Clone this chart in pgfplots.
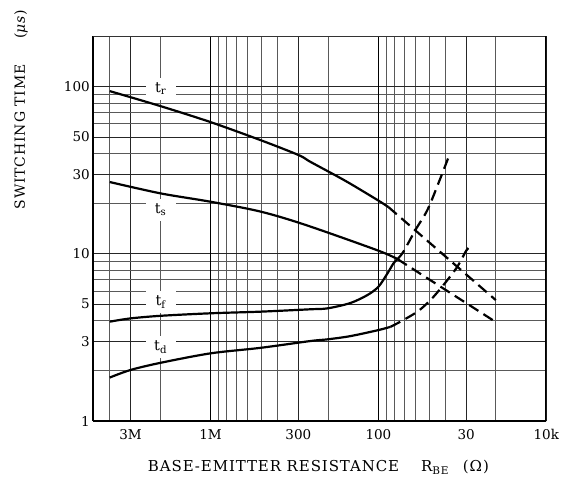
\documentclass[border=0pt]{standalone}
\usepackage{fontspec}
\setmainfont{DejaVu Serif}
\usepackage{pgfplots}
\pgfplotsset{compat=1.18}
\begin{document}
\begin{tikzpicture}
\useasboundingbox (-93.3pt,-66pt) rectangle (470.7pt,421pt);
\begin{axis}[
  at={(0pt,0pt)}, anchor=south west,
  scale only axis, width=453pt, height=384.6pt,
  xmode=log, ymode=log, x dir=reverse,
  xmin=10, xmax=5000, ymin=1, ymax=200,
  axis x line*=bottom, axis y line*=left,
  axis line style={-, line width=1.6pt},
  xtick={3000,1000,300,100,30,10}, xticklabels={3M,1M,300,100,30,10k},
  ytick={1,3,5,10,30,50,100}, yticklabels={1,3,5,10,30,50,100},
  minor xtick={4000,2000,900,800,700,600,500,400,200,90,80,70,60,50,40,20},
  minor ytick={2,4,6,7,8,9,20,40,60,70,80,90},
  extra x ticks={1000,100}, extra x tick labels={},
  extra tick style={major grid style={black, line width=1.4pt}},
  grid=both,
  major grid style={black!85, line width=0.8pt},
  minor grid style={black!65, line width=0.8pt},
  major tick length=0pt, minor tick length=0pt,
  /pgf/number format/assume math mode=true,
  tick label style={font=\fontsize{13.5}{15}\selectfont},
  xticklabel style={yshift=-5pt},
  xlabel={BASE-EMITTER RESISTANCE\hspace{22pt}R\textsubscript{BE}\hspace{14pt}(Ω)},
  ylabel={SWITCHING TIME\hspace{26pt}(\textit{μs})},
  xlabel style={at={(rel axis cs:0.497,-0.1196)}, anchor=center, font=\fontsize{15}{17}\selectfont\addfontfeature{LetterSpace=6}},
  ylabel style={at={(rel axis cs:-0.1596,0.81)}, anchor=center, font=\fontsize{14}{16}\selectfont\addfontfeature{LetterSpace=6}},
]
% t_r
\addplot[line width=2.2pt, smooth] coordinates {
 (3990,94.1) (1985,76.5) (1000,61.4) (504,47.9) (299,39.0) (254,35.5) (157,27.3) (101.4,21.0) (87.2,19.05)};
\addplot[line width=2.2pt, dash pattern=on 11pt off 6pt] coordinates {
 (87.2,19.05) (20,5.29)};
% t_s
\addplot[line width=2.2pt, smooth] coordinates {
 (3990,26.9) (1985,23.0) (1000,20.5) (504,17.9) (272,14.9) (101.4,10.5) (77.0,9.3)};
\addplot[line width=2.2pt, dash pattern=on 11pt off 6pt] coordinates {
 (77.0,9.3) (20,3.91)};
% t_f
\addplot[line width=2.2pt, smooth] coordinates {
 (3990,3.93) (3000,4.11) (1985,4.26) (1000,4.41) (504,4.51) (254,4.66) (201,4.72) (147,5.08) (116.3,5.67) (100,6.36) (88.4,7.64) (81.4,8.77) (77.0,9.31)};
\addplot[line width=2.2pt, dash pattern=on 11pt off 6pt, smooth] coordinates {
 (77.0,9.31) (71.0,10.3) (60.2,13.9) (51.1,18.3) (43.9,26.5) (37.8,39.0)};
% t_d
\addplot[line width=2.2pt, smooth] coordinates {
 (3990,1.82) (3000,2.02) (1985,2.23) (1000,2.54) (504,2.74) (254,3.01) (201,3.08) (147,3.22) (100,3.50) (84.8,3.66)};
\addplot[line width=2.2pt, dash pattern=on 11pt off 6pt, smooth] coordinates {
 (84.8,3.66) (74.0,3.93) (58.6,4.51) (49.0,5.29) (41.0,6.51) (33.9,8.37) (29.9,10.5) (27.6,11.3)};
% curve labels
\tikzset{clab/.style={fill=white, minimum width=30pt, minimum height=22pt, inner sep=0pt, font=\fontsize{14.5}{16}\selectfont}}
\node[clab] at (axis cs:1985,97) {t\textsubscript{r}};
\node[clab] at (axis cs:1985,18.3) {t\textsubscript{s}};
\node[clab] at (axis cs:1985,5.15) {t\textsubscript{f}};
\node[clab] at (axis cs:1985,2.77) {t\textsubscript{d}};
% frame: right spine, top line, extension of box above the grid
\draw[line width=0.8pt, black!80] (rel axis cs:0,1) -- (rel axis cs:1,1);
\draw[line width=2pt] (rel axis cs:1,0) -- (rel axis cs:1,1) -- ++(0pt,40pt);
\draw[line width=1.6pt] (rel axis cs:0,1) -- ++(0pt,40pt);
\end{axis}
\end{tikzpicture}
\end{document}
